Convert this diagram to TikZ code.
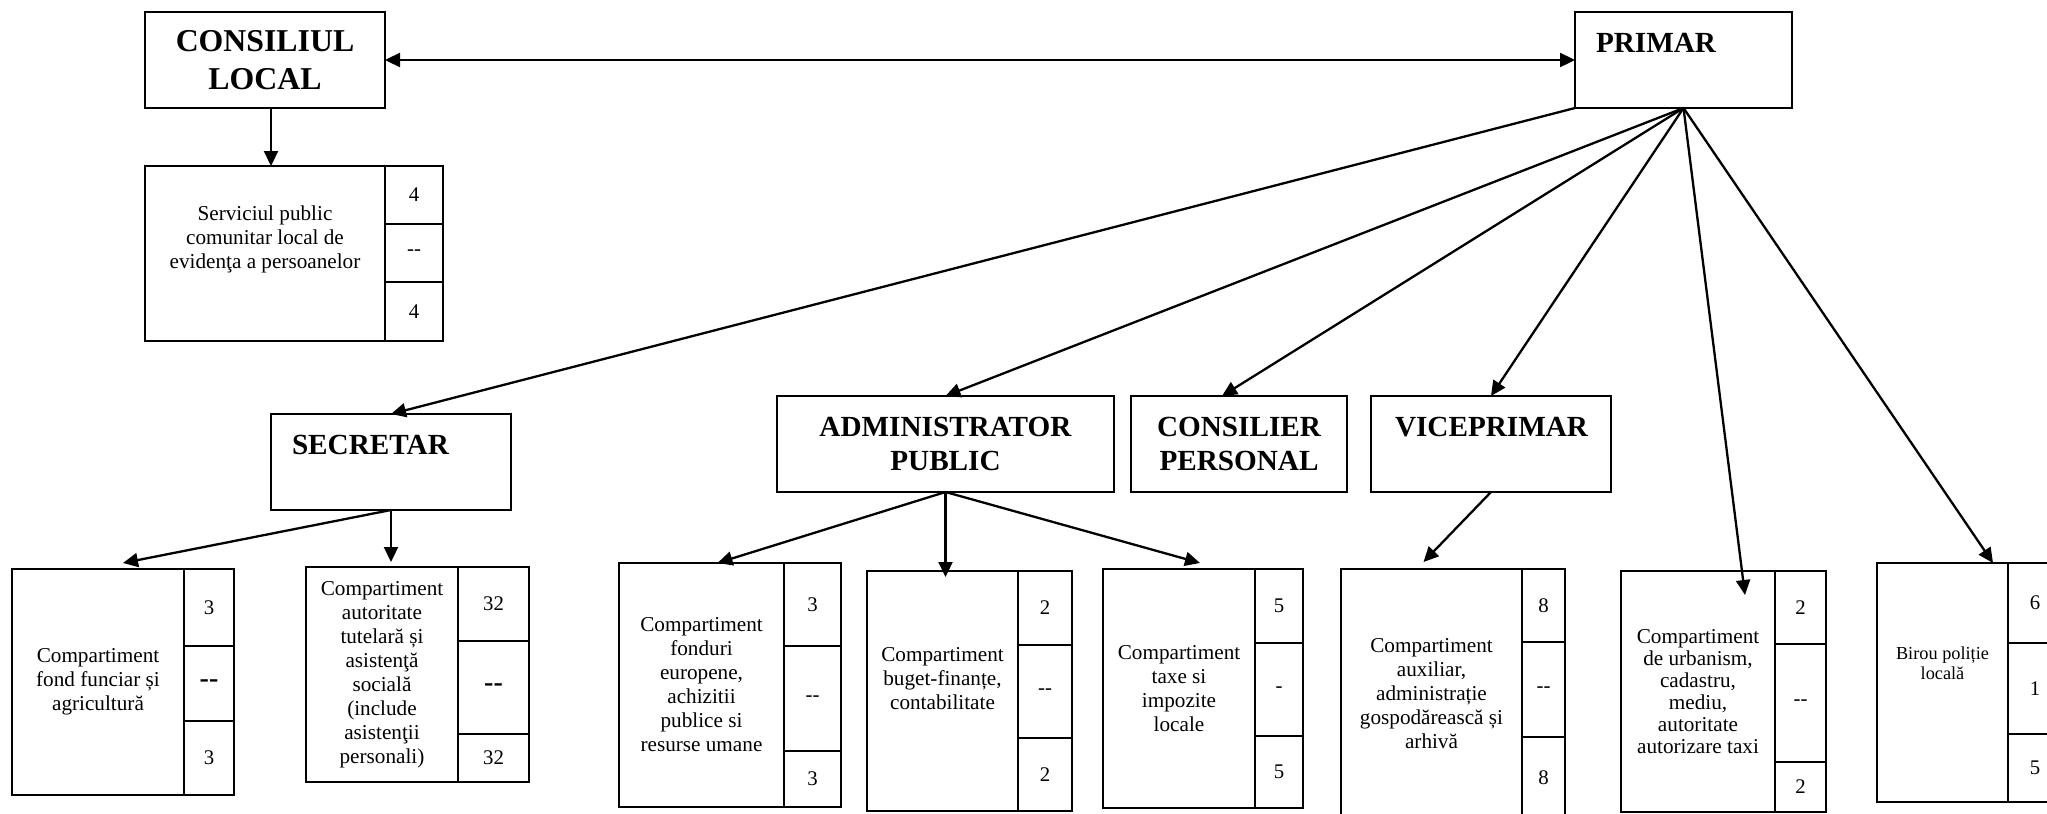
\documentclass[tikz,border=0pt]{standalone}
\usepackage{fontspec}
\setmainfont{Liberation Serif}
\usetikzlibrary{positioning,arrows.meta}

% coloana cu numere din dreapta unui compartiment
\newcommand{\numcol}[8]{%
  \node[cell, minimum width=#2, minimum height=#3, anchor=north west] (#1a) at (#1.north east) {#6};
  \node[cell, minimum width=#2, minimum height=#4, below=0pt of #1a] (#1b) {#7};
  \node[cell, minimum width=#2, minimum height=#5, below=0pt of #1b] (#1c) {#8};
}
\newcommand{\bdash}{{\fontsize{14}{16}\selectfont\bfseries -{}-}}

\tikzset{
  >={Triangle[length=7.5pt,width=7pt]},
  boss/.style={draw, line width=1pt, outer sep=0pt, anchor=north west, minimum height=48pt,
    font=\fontsize{14.6}{17}\selectfont\bfseries, align=center},
  bossleft/.style={boss, align=left, inner xsep=10.5pt, inner ysep=0pt, text height=10pt, text depth=18pt},
  dept/.style={draw, line width=1pt, outer sep=0pt, anchor=north west, inner sep=1pt,
    font=\fontsize{10.6}{12}\selectfont, align=center},
  cell/.style={draw, line width=1pt, outer sep=0pt, inner sep=0pt, font=\fontsize{10.4}{12}\selectfont},
  link/.style={->, line width=1.15pt},
}

\begin{document}
\begin{tikzpicture}[x=0.5pt,y=-0.5pt]
\useasboundingbox (0,0) rectangle (2047,814);
\clip (0,0) rectangle (2047,814);

% conducere
\node[boss, minimum width=120pt, font=\fontsize{15.9}{19}\selectfont\bfseries] (cl) at (145,12) {CONSILIUL\\LOCAL};
\node[bossleft, text width=87.5pt] (pr) at (1575,12) {PRIMAR};
\node[bossleft, text width=99pt] (sec) at (271,414) {SECRETAR};
\node[boss, minimum width=168.5pt] (adm) at (777,396) {ADMINISTRATOR\\PUBLIC};
\node[boss, minimum width=108pt] (cons) at (1131,396) {CONSILIER\\PERSONAL};
\node[bossleft, inner xsep=12pt, text width=96pt] (vice) at (1371,396) {VICEPRIMAR};

% compartimente
\node[dept, minimum width=120pt, minimum height=87.5pt, text depth=16pt] (serv) at (145,166)
  {Serviciul public\\comunitar local de\\evidenţa a persoanelor};
\numcol{serv}{29pt}{29pt}{29pt}{29.5pt}{4}{-{}-}{4}

\node[dept, minimum width=86pt, minimum height=113pt] (fond) at (12,569)
  {Compartiment\\fond funciar și\\agricultură};
\numcol{fond}{25pt}{38.5pt}{37.5pt}{37pt}{3}{\bdash}{3}

\node[dept, minimum width=76pt, minimum height=107.5pt] (aut) at (306,567)
  {Compartiment\\autoritate\\tutelară și\\asistenţă\\socială\\(include\\asistenţii\\personali)};
\numcol{aut}{35.5pt}{37pt}{46.5pt}{24pt}{32}{\bdash}{32}

\node[dept, minimum width=82.5pt, minimum height=122pt] (feu) at (619,563)
  {Compartiment\\fonduri\\europene,\\achizitii\\publice si\\resurse umane};
\numcol{feu}{28.5pt}{41.5pt}{52.5pt}{28pt}{3}{-{}-}{3}

\node[dept, minimum width=75.5pt, minimum height=120pt, text depth=13pt] (bug) at (867,571)
  {Compartiment\\buget-finanțe,\\contabilitate};
\numcol{bug}{27pt}{37pt}{46.5pt}{36.5pt}{2}{-{}-}{2}

\node[dept, minimum width=76pt, minimum height=119.5pt] (tax) at (1103,569)
  {Compartiment\\taxe si\\impozite\\locale};
\numcol{tax}{24pt}{37pt}{46.5pt}{36pt}{5}{-}{5}

\node[dept, minimum width=90.5pt, minimum height=124.5pt] (aux) at (1341,569)
  {Compartiment\\auxiliar,\\administrație\\gospodărească și\\arhivă};
\numcol{aux}{21.5pt}{36.5pt}{47.5pt}{40.5pt}{8}{-{}-}{8}

\node[dept, minimum width=77pt, minimum height=120.5pt, font=\fontsize{10.6}{11}\selectfont] (urb) at (1621,571)
  {Compartiment\\de urbanism,\\cadastru,\\mediu,\\autoritate\\autorizare taxi};
\numcol{urb}{25.5pt}{36.5pt}{59pt}{25pt}{2}{-{}-}{2}

\node[dept, minimum width=65.5pt, minimum height=119.5pt, font=\fontsize{9.15}{10}\selectfont, text depth=19.5pt] (bir) at (1877,563)
  {Birou poliție\\locală};
\numcol{bir}{27pt}{40pt}{45.5pt}{34pt}{6}{1}{5}

% legaturi
\draw[<->, line width=1.15pt] (cl.east) -- (pr.west);
\draw[link] ([xshift=3pt]cl.south) -- ([xshift=3pt]serv.north);
\draw[link] (pr.south west) -- (sec.north);
\draw[link] (pr.south) -- (adm.north);
\draw[link] (pr.south) -- ([xshift=-8.5pt]cons.north);
\draw[link] (pr.south) -- (vice.north);
\draw[link] (pr.south) -- ([shift={(-15pt,-12pt)}]urb.north east);
\draw[link] (pr.south) -- ([xshift=-7.5pt]bir.north east);
\draw[link] (sec.south) -- ([shift={(12.5pt,3pt)}]fond.north);
\draw[link] (sec.south) -- ([yshift=2.5pt]sec.south |- aut.north);
\draw[link] (adm.south) -- ([shift={(8pt,0pt)}]feu.north);
\draw[link] (adm.south) -- ([yshift=-3pt]adm.south |- bug.north);
\draw[link] (adm.south) -- ([shift={(10.5pt,3pt)}]tax.north);
\draw[link] (vice.south) -- ([shift={(-4pt,3.5pt)}]aux.north);
\end{tikzpicture}
\end{document}
